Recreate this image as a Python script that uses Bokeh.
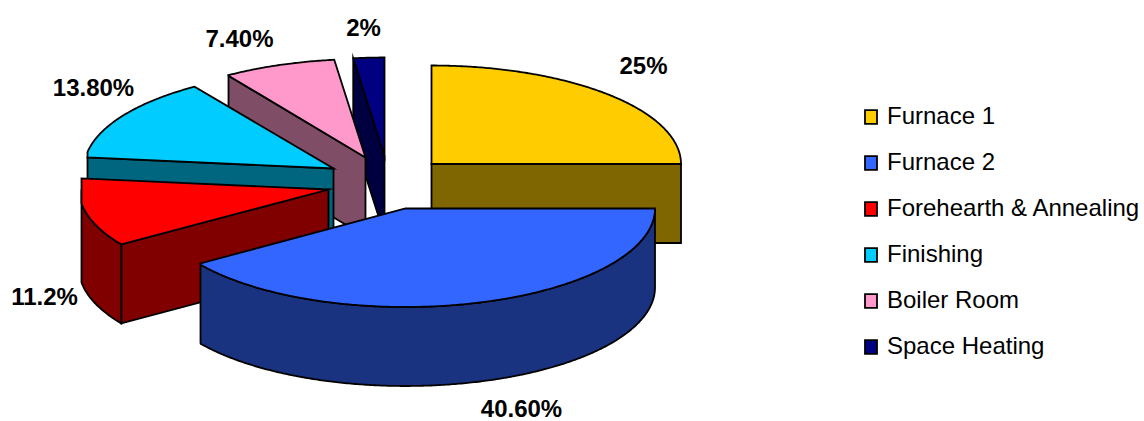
import numpy as np
from bokeh.core.properties import value
from bokeh.embed import file_html
from bokeh.models import Legend, LegendItem, Range1d
from bokeh.plotting import figure
from bokeh.resources import INLINE

# Energy share by process area, in percent
categories = ["Furnace 1", "Furnace 2", "Forehearth & Annealing",
              "Finishing", "Boiler Room", "Space Heating"]
shares = [25.0, 40.6, 11.2, 13.8, 7.4, 2.0]
share_labels = ["25%", "40.60%", "11.2%", "13.80%", "7.40%", "2%"]

# Colours of the top and side faces of each wedge
top_colors = ["#FFCC00", "#3366FF", "#FF0000", "#00CCFF", "#FF99CC", "#000080"]
side_colors = ["#806600", "#1A3380", "#800000", "#006680", "#804D66", "#000040"]

# Projection of the exploded pie, in screen pixels
RX, RY, DEPTH = 249.5, 98.5, 79.0
hubs = [(431, 163.5), (405, 208), (328, 189), (333, 168), (365, 157), (384, 155.5)]
left_limits = [0, 200, 81, 87, 228, 0]
label_spots = [(643, 65), (521, 408), (44, 296), (93, 87), (239, 38), (363, 27)]
OUTLINE = dict(line_color="black", line_width=1.8, line_join="miter")


def rim_point(hub, degrees, limit):
    """Point on a wedge's rim; degrees run clockwise from 12 o'clock."""
    a = np.radians(degrees)
    x = np.maximum(hub[0] + RX * np.sin(a), limit)
    return x, hub[1] - RY * np.cos(a)


p = figure(width=1144, height=421, output_backend="svg", toolbar_location=None,
           x_range=Range1d(0, 1144), y_range=Range1d(421, 0),
           min_border=0, outline_line_color=None)
p.axis.visible = False
p.grid.visible = False

edges = np.concatenate([[0.0], np.cumsum(shares)]) * 3.6
legend_renderers = {}

# Back wedges first, so the nearer ones overlap them
for i in [5, 4, 0, 3, 2, 1]:
    start, stop, hub, limit = edges[i], edges[i + 1], hubs[i], left_limits[i]
    sweep = np.linspace(start, stop, max(int(stop - start) * 2, 2) + 1)
    rx, ry = rim_point(hub, sweep, limit)

    # Flat cut faces turned towards the viewer
    if np.sin(np.radians(start)) < -1e-6:
        cut = (rx[0], ry[0])
    elif np.sin(np.radians(stop)) > 1e-6:
        cut = (rx[-1], ry[-1])
    else:
        cut = None
    if cut is not None:
        p.patch([hub[0], cut[0], cut[0], hub[0]],
                [hub[1], cut[1], cut[1] + DEPTH, hub[1] + DEPTH],
                fill_color=side_colors[i], **OUTLINE)

    # Curved outer wall on the front half of the ellipse
    front = np.cos(np.radians(sweep)) <= 1e-6
    if front.sum() > 1:
        fx, fy = rx[front], ry[front]
        p.patch(np.concatenate([fx, fx[::-1]]),
                np.concatenate([fy, fy[::-1] + DEPTH]),
                fill_color=side_colors[i], **OUTLINE)

    # Top face
    legend_renderers[i] = p.patch(np.concatenate([[hub[0]], rx]),
                                  np.concatenate([[hub[1]], ry]),
                                  fill_color=top_colors[i], **OUTLINE)

xs, ys = zip(*label_spots)
p.text(list(xs), list(ys), text=share_labels, text_align="center",
       text_baseline="middle", text_color="black", text_font_style="bold",
       text_font=value("Liberation Sans"), text_font_size="24px")

legend = Legend(
    items=[LegendItem(label=c, renderers=[legend_renderers[i]])
           for i, c in enumerate(categories)],
    location=(863, 421 - 360), orientation="vertical",
    background_fill_alpha=0, border_line_color=None, padding=0, margin=0,
    glyph_width=15, glyph_height=17, label_standoff=9, spacing=18,
    label_height=28, label_text_font="Liberation Sans",
    label_text_font_size="24px", label_text_color="black",
)
p.add_layout(legend)

open("out.html", "w").write(file_html(p, INLINE))
